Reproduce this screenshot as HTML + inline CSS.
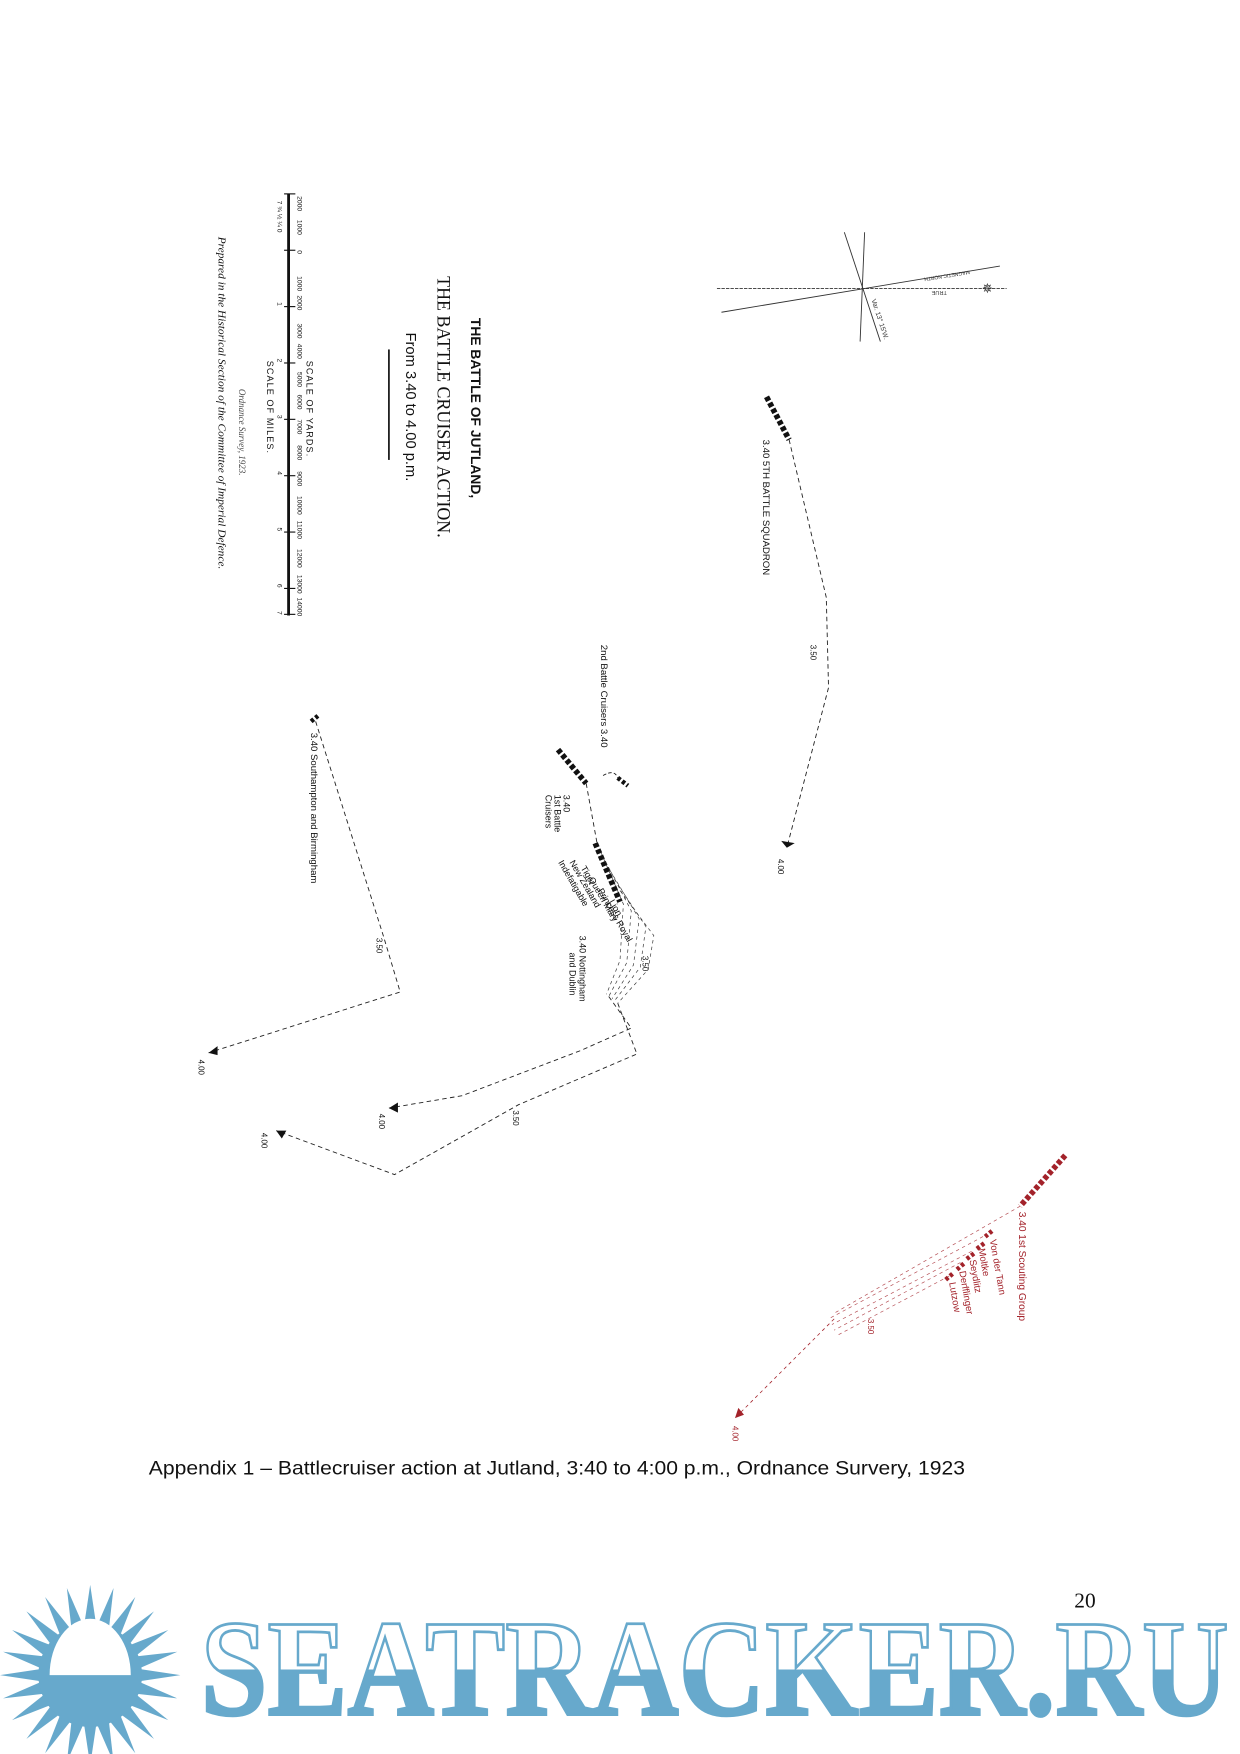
<!DOCTYPE html>
<html><head><meta charset="utf-8"><style>
html,body{margin:0;padding:0;background:#fff;}
svg{display:block;}
</style></head><body>
<svg width="1240" height="1754" viewBox="0 0 1100 1556" xmlns="http://www.w3.org/2000/svg">
<defs>
<linearGradient id="half" gradientUnits="userSpaceOnUse" x1="0" y1="1436" x2="0" y2="1526">
<stop offset="0.5" stop-color="#ffffff"/><stop offset="0.5" stop-color="#67a9cc"/>
</linearGradient>
</defs>
<rect width="1100" height="1556" fill="#fff"/>

<g font-family="Liberation Serif, serif" fill="#111">
<text transform="translate(418,282) rotate(90)" font-size="12" font-weight="bold" font-family="Liberation Sans Narrow, Liberation Sans, sans-serif" textLength="160" lengthAdjust="spacingAndGlyphs">THE BATTLE OF JUTLAND,</text>
<text transform="translate(388,245) rotate(90)" font-size="17" textLength="232" lengthAdjust="spacingAndGlyphs">THE BATTLE CRUISER ACTION.</text>
<text transform="translate(360,295) rotate(90)" font-size="13" font-family="Liberation Sans Narrow, Liberation Sans, sans-serif" textLength="132" lengthAdjust="spacingAndGlyphs">From 3.40 to 4.00 p.m.</text>
<line x1="345" y1="310" x2="345" y2="408" stroke="#111" stroke-width="1.5"/>
<line x1="256" y1="172" x2="256" y2="546" stroke="#111" stroke-width="2.5"/>
<g stroke="#111" stroke-width="1">
<line x1="252" y1="172" x2="262" y2="172"/><line x1="252" y1="222" x2="262" y2="222"/>
<line x1="252" y1="272" x2="262" y2="272"/><line x1="252" y1="322" x2="262" y2="322"/>
<line x1="252" y1="372" x2="262" y2="372"/><line x1="252" y1="422" x2="262" y2="422"/>
<line x1="252" y1="472" x2="262" y2="472"/><line x1="252" y1="522" x2="262" y2="522"/>
<line x1="252" y1="545" x2="262" y2="545"/>
</g>
<g font-size="6" font-family="Liberation Sans, sans-serif">
<text transform="translate(264,174) rotate(90)">2000</text><text transform="translate(264,195) rotate(90)">1000</text>
<text transform="translate(264,222) rotate(90)">0</text><text transform="translate(264,245) rotate(90)">1000</text>
<text transform="translate(264,262) rotate(90)">2000</text><text transform="translate(264,287) rotate(90)">3000</text>
<text transform="translate(264,305) rotate(90)">4000</text><text transform="translate(264,330) rotate(90)">5000</text>
<text transform="translate(264,350) rotate(90)">6000</text><text transform="translate(264,372) rotate(90)">7000</text>
<text transform="translate(264,395) rotate(90)">8000</text><text transform="translate(264,418) rotate(90)">9000</text>
<text transform="translate(264,440) rotate(90)">10000</text><text transform="translate(264,462) rotate(90)">11000</text>
<text transform="translate(264,487) rotate(90)">12000</text><text transform="translate(264,510) rotate(90)">13000</text>
<text transform="translate(264,530) rotate(90)">14000</text>
<text transform="translate(246,178) rotate(90)">7 ¾ ½ ¼ 0</text>
<text transform="translate(246,268) rotate(90)">1</text><text transform="translate(246,318) rotate(90)">2</text>
<text transform="translate(246,368) rotate(90)">3</text><text transform="translate(246,418) rotate(90)">4</text>
<text transform="translate(246,468) rotate(90)">5</text><text transform="translate(246,518) rotate(90)">6</text>
<text transform="translate(246,542) rotate(90)">7</text>
</g>
<text transform="translate(272,320) rotate(90)" font-size="8" font-family="Liberation Sans, sans-serif" letter-spacing="1">SCALE OF YARDS.</text>
<text transform="translate(237,320) rotate(90)" font-size="8" font-family="Liberation Sans, sans-serif" letter-spacing="1">SCALE OF MILES.</text>
<text transform="translate(212,345) rotate(90)" font-size="8" font-style="italic" fill="#444">Ordnance Survey, 1923.</text>
<text transform="translate(194,210) rotate(90)" font-size="9.5" font-style="italic" textLength="295" lengthAdjust="spacingAndGlyphs">Prepared in the Historical Section of the Committee of Imperial Defence.</text>
</g>

<g stroke="#333" stroke-width="0.8" fill="none">
<line x1="636" y1="256" x2="893" y2="256" stroke-dasharray="3,1"/>
<line x1="640" y1="277" x2="887" y2="236"/>
<line x1="749" y1="206" x2="781" y2="303"/>
<line x1="767" y1="206" x2="763" y2="303"/>
</g>
<text x="876" y="260" font-size="12" text-anchor="middle" fill="#333">✵</text>
<text transform="translate(840,258) rotate(180)" font-size="5" font-family="Liberation Sans, sans-serif" fill="#333">TRUE</text>
<text transform="translate(860,240) rotate(171)" font-size="4.5" font-family="Liberation Sans, sans-serif" fill="#333">MAGNETIC NORTH</text>
<text transform="translate(773,266) rotate(72)" font-size="6" font-family="Liberation Sans, sans-serif" fill="#333">Var. 13° 15'W.</text>

<g font-family="Liberation Sans Narrow, Liberation Sans, sans-serif" fill="#111">
<path d="M680,352 L700,390" stroke="#111" stroke-width="5" stroke-dasharray="4,2"/>
<path d="M700,390 L733,530 L735,610 L698,752" stroke="#222" stroke-width="0.8" fill="none" stroke-dasharray="4,3"/>
<path d="M698,752 l-5,-6 l12,2 z" fill="#111"/>
<text transform="translate(677,390) rotate(90)" font-size="8.5">3.40  5TH BATTLE SQUADRON</text>
<text transform="translate(719,572) rotate(90)" font-size="7">3.50</text>
<text transform="translate(690,762) rotate(90)" font-size="7">4.00</text>

<path d="M276,640 l6,-5" stroke="#111" stroke-width="4" stroke-dasharray="3,2"/>
<path d="M280,640 L340,830 L355,880 L185,934" stroke="#222" stroke-width="0.8" fill="none" stroke-dasharray="4,3"/>
<path d="M185,934 l8,-6 l0,8 z" fill="#111"/>
<text transform="translate(276,650) rotate(90)" font-size="8.5">3.40 Southampton and Birmingham</text>
<text transform="translate(334,832) rotate(90)" font-size="7">3.50</text>
<text transform="translate(176,940) rotate(90)" font-size="7">4.00</text>

<path d="M495,665 L520,695" stroke="#111" stroke-width="5" stroke-dasharray="4,2"/>
<path d="M548,690 L557,697" stroke="#111" stroke-width="4" stroke-dasharray="3,2"/>
<path d="M535,688 q10,-6 13,2" stroke="#111" stroke-width="0.8" fill="none" stroke-dasharray="3,2"/>
<path d="M520,695 L530,750" stroke="#222" stroke-width="0.8" stroke-dasharray="4,3"/>
<path d="M528,748 L550,800" stroke="#111" stroke-width="5" stroke-dasharray="4,2"/>
<text transform="translate(533,572) rotate(90)" font-size="8.5">2nd Battle Cruisers 3.40</text>
<text transform="translate(500,705) rotate(90)" font-size="8">3.40</text>
<text transform="translate(492,705) rotate(90)" font-size="8">1st Battle</text>
<text transform="translate(484,705) rotate(90)" font-size="8">Cruisers</text>
<g font-size="8">
<text transform="translate(540,800) rotate(60)">Lion</text>
<text transform="translate(530,790) rotate(60)">Princess Royal</text>
<text transform="translate(522,780) rotate(60)">Queen Mary</text>
<text transform="translate(515,770) rotate(60)">Tiger</text>
<text transform="translate(505,765) rotate(60)">New Zealand</text>
<text transform="translate(495,765) rotate(60)">Indefatigable</text>
</g>
<text transform="translate(514,830) rotate(90)" font-size="8">3.40 Nottingham</text>
<text transform="translate(505,845) rotate(90)" font-size="8">and Dublin</text>
<g stroke="#333" stroke-width="0.6" fill="none" stroke-dasharray="3,3">
<path d="M550,790 L580,830 L575,860 L548,890"/>
<path d="M545,780 L573,822 L568,858 L545,888"/>
<path d="M541,772 L567,815 L562,856 L543,886"/>
<path d="M537,764 L560,808 L556,854 L540,884"/>
<path d="M533,756 L553,802 L550,852 L538,882"/>
</g>
<path d="M548,890 L565,935 L460,980 L350,1042 L245,1003" stroke="#222" stroke-width="0.8" fill="none" stroke-dasharray="4,3"/>
<path d="M245,1003 l9,0 l-4,7 z" fill="#111"/>
<path d="M540,884 L560,912 L515,932 L410,972 L345,983" stroke="#222" stroke-width="0.8" fill="none" stroke-dasharray="4,3"/>
<path d="M345,983 l8,-5 l0,9 z" fill="#111"/>
<text transform="translate(570,848) rotate(90)" font-size="7">3.50</text>
<text transform="translate(455,985) rotate(90)" font-size="7">3.50</text>
<text transform="translate(336,988) rotate(90)" font-size="7">4.00</text>
<text transform="translate(232,1005) rotate(90)" font-size="7">4.00</text>
</g>

<g font-family="Liberation Sans Narrow, Liberation Sans, sans-serif" fill="#a3222a">
<path d="M945,1025 L905,1070" stroke="#a3222a" stroke-width="5" stroke-dasharray="4,2"/>
<g stroke="#a3222a" stroke-width="4" stroke-dasharray="3,2">
<path d="M880,1092 l-6,5"/><path d="M873,1103 l-8,6"/><path d="M864,1112 l-8,6"/><path d="M855,1121 l-7,6"/><path d="M845,1130 l-7,6"/>
</g>
<g stroke="#a3222a" stroke-width="0.6" fill="none" stroke-dasharray="3,3" opacity="0.8">
<path d="M905,1070 L740,1165"/>
<path d="M872,1097 L735,1170"/>
<path d="M862,1110 L738,1175"/>
<path d="M852,1120 L740,1180"/>
<path d="M842,1132 L742,1185"/>
</g>
<path d="M740,1170 L655,1255" stroke="#a3222a" stroke-width="0.7" stroke-dasharray="3,3"/>
<path d="M652,1258 l3,-9 l5,6 z"/>
<text transform="translate(904,1075) rotate(90)" font-size="9">3.40  1st Scouting Group</text>
<text transform="translate(878,1100) rotate(80)" font-size="8.5">Von der Tann</text>
<text transform="translate(868,1108) rotate(80)" font-size="8.5">Moltke</text>
<text transform="translate(860,1118) rotate(80)" font-size="8.5">Seydlitz</text>
<text transform="translate(851,1128) rotate(80)" font-size="8.5">Derfflinger</text>
<text transform="translate(842,1138) rotate(80)" font-size="8.5">Lutzow</text>
<text transform="translate(770,1170) rotate(90)" font-size="7">3.50</text>
<text transform="translate(650,1265) rotate(90)" font-size="7">4.00</text>
</g>

<text x="132" y="1308" font-family="Liberation Sans Narrow, Liberation Sans, sans-serif" font-size="17" fill="#111" textLength="724" lengthAdjust="spacingAndGlyphs">Appendix 1 – Battlecruiser action at Jutland, 3:40 to 4:00 p.m., Ordnance Survery, 1923</text>

<text x="953" y="1426" font-family="Liberation Serif, serif" font-size="19" fill="#111">20</text>

<g transform="translate(80,1486)">
<g fill="#67a9cc">
<polygon points="0,-80 6,-40 -6,-40" transform="rotate(0)"/>
<polygon points="0,-80 6,-40 -6,-40" transform="rotate(15)"/>
<polygon points="0,-80 6,-40 -6,-40" transform="rotate(30)"/>
<polygon points="0,-80 6,-40 -6,-40" transform="rotate(45)"/>
<polygon points="0,-80 6,-40 -6,-40" transform="rotate(60)"/>
<polygon points="0,-80 6,-40 -6,-40" transform="rotate(75)"/>
<polygon points="0,-80 6,-40 -6,-40" transform="rotate(90)"/>
<polygon points="0,-80 6,-40 -6,-40" transform="rotate(105)"/>
<polygon points="0,-80 6,-40 -6,-40" transform="rotate(120)"/>
<polygon points="0,-80 6,-40 -6,-40" transform="rotate(135)"/>
<polygon points="0,-80 6,-40 -6,-40" transform="rotate(150)"/>
<polygon points="0,-80 6,-40 -6,-40" transform="rotate(165)"/>
<polygon points="0,-80 6,-40 -6,-40" transform="rotate(180)"/>
<polygon points="0,-80 6,-40 -6,-40" transform="rotate(195)"/>
<polygon points="0,-80 6,-40 -6,-40" transform="rotate(210)"/>
<polygon points="0,-80 6,-40 -6,-40" transform="rotate(225)"/>
<polygon points="0,-80 6,-40 -6,-40" transform="rotate(240)"/>
<polygon points="0,-80 6,-40 -6,-40" transform="rotate(255)"/>
<polygon points="0,-80 6,-40 -6,-40" transform="rotate(270)"/>
<polygon points="0,-80 6,-40 -6,-40" transform="rotate(285)"/>
<polygon points="0,-80 6,-40 -6,-40" transform="rotate(300)"/>
<polygon points="0,-80 6,-40 -6,-40" transform="rotate(315)"/>
<polygon points="0,-80 6,-40 -6,-40" transform="rotate(330)"/>
<polygon points="0,-80 6,-40 -6,-40" transform="rotate(345)"/>
<circle r="46"/>
</g>
<path d="M-36,0 A36,50 0 0 1 36,0 Z" fill="#fff"/>
</g>

<text x="178" y="1521" font-family="Liberation Serif, serif" font-weight="bold" font-size="122" fill="url(#half)" stroke="#67a9cc" stroke-width="2.5" textLength="912" lengthAdjust="spacingAndGlyphs">SEATRACKER.RU</text>
</svg>
</body></html>
